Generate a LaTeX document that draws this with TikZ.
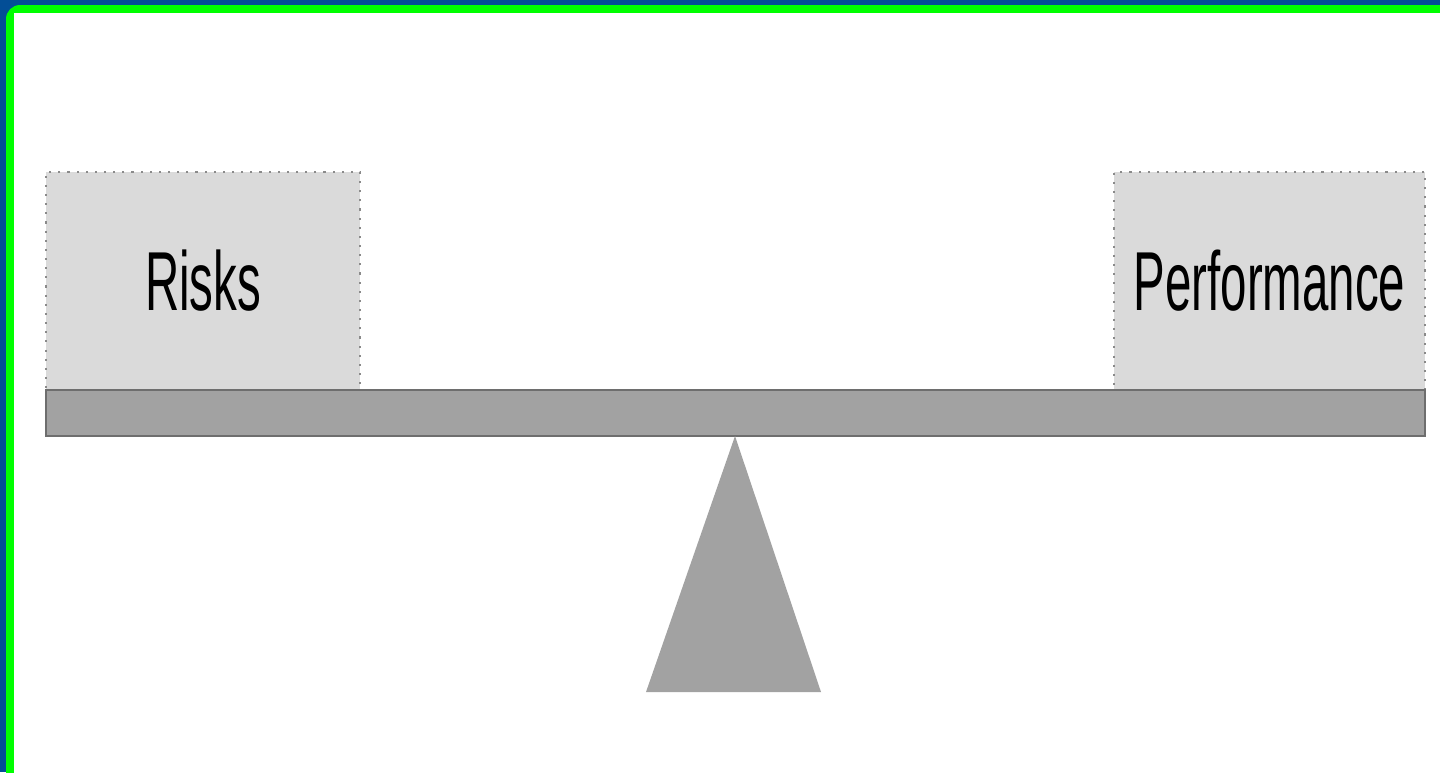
\documentclass[tikz,border=0pt]{standalone}
\usepackage{fontspec}
\newfontfamily\narrowsans[FakeStretch=0.567]{Liberation Sans}
\definecolor{frameBlue}{HTML}{034E96}
\definecolor{frameGreen}{HTML}{00FF00}
\definecolor{boxGray}{HTML}{DADADA}
\definecolor{beamGray}{HTML}{A2A2A2}
\definecolor{edgeGray}{HTML}{8A8A8A}
\usetikzlibrary{positioning}
\tikzset{
  weightbox/.style={draw=edgeGray, line width=0.6pt, dotted, fill=boxGray, minimum height=2.18cm, inner sep=0pt, font=\narrowsans\fontsize{23.8}{26}\selectfont, text=black},
  beambar/.style={draw=edgeGray!80!black, line width=0.6pt, fill=beamGray, minimum width=13.79cm, minimum height=0.46cm, inner sep=0pt},
}

\begin{document}
\begin{tikzpicture}[x=0.01cm, y=-0.01cm]
\useasboundingbox (0,0) rectangle (1440,772);
\fill[frameBlue] (0,0) rectangle (1440,772);
\fill[frameGreen] (6,790) [rounded corners=4pt]-- (6,5) [sharp corners]-- (1460,5) -- (1460,790) -- cycle;
\fill[white] (14,13) rectangle (1460,790);
\node[weightbox, minimum width=3.14cm] (risks) at (203,281) {\raisebox{-0.09cm}{Risks}};
\node[weightbox, minimum width=3.11cm] (perf) at (1269.5,281) {\raisebox{-0.09cm}{Performance}};
\node[beambar] (beam) at (735.5,413) {};
\coordinate (apex) at (735,436);
\fill[beamGray] (apex) -- (646,692) -- (821,692) -- cycle;
\end{tikzpicture}
\end{document}
